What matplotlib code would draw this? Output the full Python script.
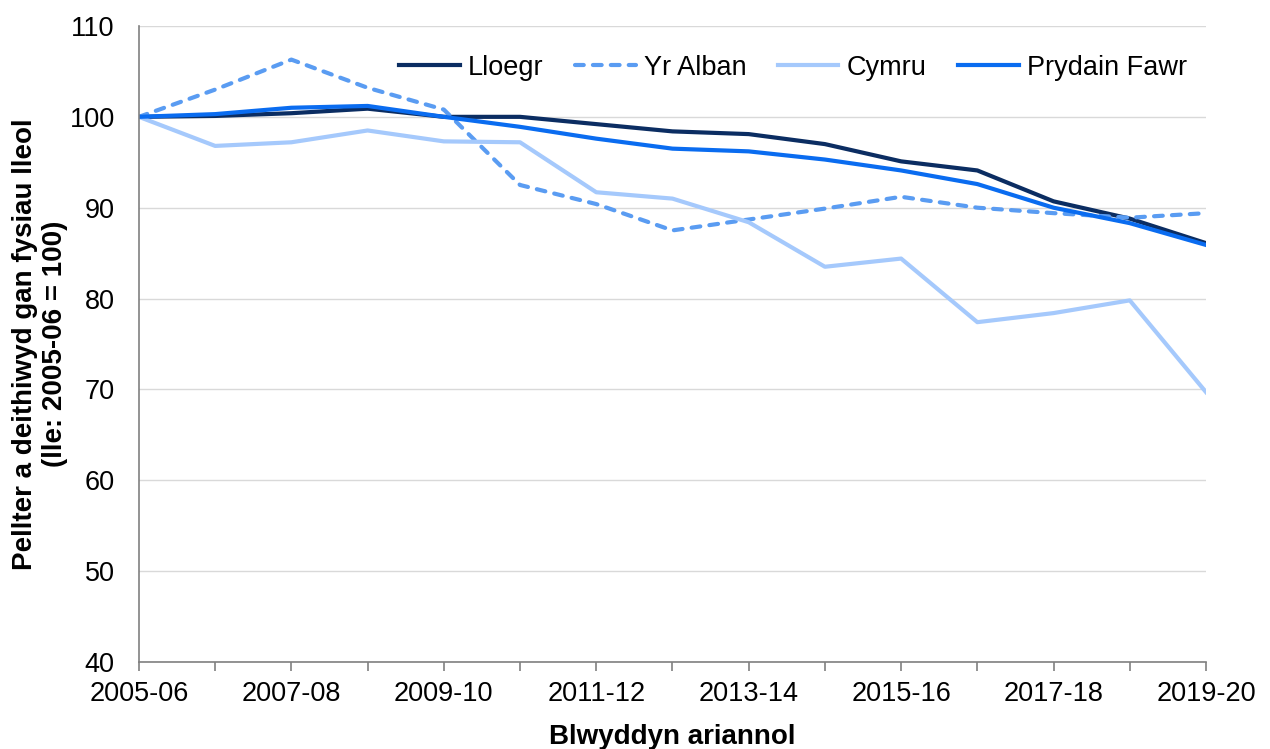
import matplotlib
matplotlib.use("Agg")
import matplotlib.pyplot as plt
import numpy as np

plt.rcParams['font.family'] = ['Liberation Sans', 'DejaVu Sans']

years = ["2005-06", "2006-07", "2007-08", "2008-09", "2009-10", "2010-11", "2011-12",
         "2012-13", "2013-14", "2014-15", "2015-16", "2016-17", "2017-18", "2018-19", "2019-20"]
lloegr = [100, 100.1, 100.4, 100.9, 100.0, 100.0, 99.2, 98.4, 98.1, 97.0, 95.1, 94.1, 90.7, 88.8, 86.1]
yr_alban = [100, 103.0, 106.3, 103.2, 100.8, 92.5, 90.4, 87.5, 88.7, 89.9, 91.2, 90.0, 89.4, 88.9, 89.4]
cymru = [100, 96.8, 97.2, 98.5, 97.3, 97.2, 91.7, 91.0, 88.4, 83.5, 84.4, 77.4, 78.4, 79.8, 69.7]
prydain_fawr = [100, 100.3, 101.0, 101.2, 100.0, 98.9, 97.6, 96.5, 96.2, 95.3, 94.1, 92.6, 90.0, 88.3, 85.9]

FS = 19.5

fig = plt.figure(figsize=(12.7, 7.49), dpi=100)
ax = fig.add_axes([0.1094, 0.1162, 0.8402, 0.8491])

x = np.arange(len(years))
ax.plot(x, lloegr, color='#0b2d62', lw=3, label='Lloegr')
ax.plot(x, yr_alban, color='#5a9cf2', lw=3, ls=(0, (2.1, 2.2)), dash_capstyle='round',
        label='Yr Alban')
ax.plot(x, cymru, color='#a5c9fc', lw=3, label='Cymru')
ax.plot(x, prydain_fawr, color='#0a6cf0', lw=3, label='Prydain Fawr')

ax.set_xlim(0, len(years) - 1)
ax.set_ylim(40, 110)
ax.set_yticks(np.arange(40, 111, 10))
ax.set_xticks(x)
ax.set_xticklabels([y if i % 2 == 0 else '' for i, y in enumerate(years)])
ax.tick_params(axis='both', labelsize=FS, labelcolor='#000000')
ax.tick_params(axis='x', color='#808080', length=6.5, width=1.2, pad=7.5)
ax.tick_params(axis='y', length=0, pad=17.5)
ax.grid(axis='y', color='#d9d9d9', lw=1)
ax.set_axisbelow(True)
for s in ['top', 'right']:
    ax.spines[s].set_visible(False)
ax.spines['left'].set_color('#808080')
ax.spines['bottom'].set_color('#808080')
ax.spines['left'].set_linewidth(1.2)
ax.spines['bottom'].set_linewidth(1.2)

ax.set_xlabel('Blwyddyn ariannol', fontsize=20, fontweight='bold', labelpad=12)
ax.set_ylabel('Pellter a deithiwyd gan fysiau lleol\n(lle: 2005-06 = 100)', fontsize=20,
              fontweight='bold', labelpad=1, linespacing=1.2)

ax.legend(loc='center right', bbox_to_anchor=(0.982, 0.934), ncol=4, frameon=False, fontsize=FS,
          handlelength=2.25, columnspacing=1.15, handletextpad=0.3, borderpad=0, borderaxespad=0)

fig.savefig('out.png', dpi=100)
